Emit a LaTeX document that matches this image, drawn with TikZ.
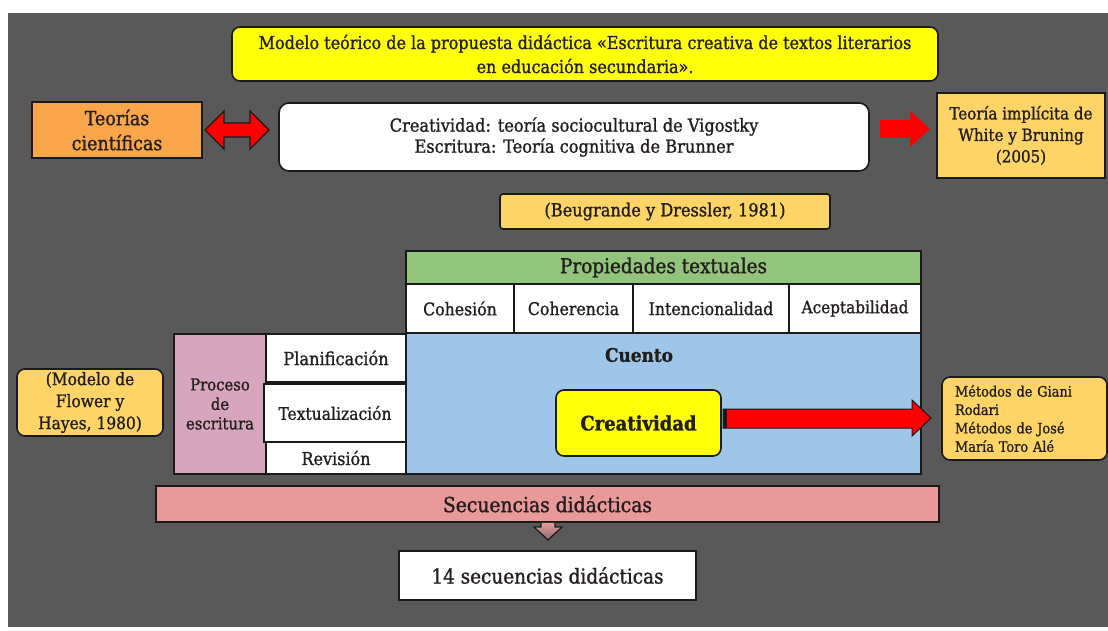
\documentclass[tikz,border=0pt]{standalone}
\usepackage{fontspec}
\setmainfont{DejaVu Serif Condensed}[FakeBold=1.1]
\definecolor{bggray}{HTML}{595959}
\definecolor{edge}{HTML}{1A1A1A}
\definecolor{ink}{HTML}{221E1C}
\definecolor{titley}{HTML}{FFFF0A}
\definecolor{orangeT}{HTML}{F9A64A}
\definecolor{lightO}{HTML}{FFD467}
\definecolor{greenP}{HTML}{93C47D}
\definecolor{blueC}{HTML}{9FC5E8}
\definecolor{pinkP}{HTML}{D5A6BD}
\definecolor{pinkS}{HTML}{EA9999}
\definecolor{redA}{HTML}{FF0000}
\newcommand{\fs}[2]{\fontsize{#1}{#2}\selectfont}
\begin{document}
\begin{tikzpicture}[x=1pt,y=-1pt,
  box/.style={draw=edge, line width=1.6pt, text=ink, inner sep=2pt, align=center},
  rbox/.style={box, rounded corners=8pt},
  cell/.style={box, fill=white, minimum height=49pt}]
\useasboundingbox (0,0) rectangle (1108,631);
\fill[white] (0,0) rectangle (1108,631);
\fill[bggray] (8,13) rectangle (1108,627);

% title
\node[rbox, fill=titley, minimum width=706pt, minimum height=54pt, font=\fs{17.8}{24}] (title) at (585,54)
  {Modelo teórico de la propuesta didáctica «Escritura creativa de textos literarios\\ en educación secundaria».};

% top row
\node[box, fill=orangeT, minimum width=170pt, minimum height=56pt, font=\fs{19.5}{25}] (teorias) at (117,130)
  {Teorías\\ científicas};
\node[rbox, rounded corners=10pt, fill=white, minimum width=590pt, minimum height=68pt, font=\fs{18}{21}] (teoria) at (574,137)
  {Creatividad: teoría sociocultural de Vigostky\\ Escritura: Teoría cognitiva de Brunner};
\node[box, fill=lightO, minimum width=168pt, minimum height=85pt, font=\fs{16.8}{21.5}] (white) at (1021,135.5)
  {Teoría implícita de\\ White y Bruning\\ (2005)};
\node[box, rounded corners=3pt, fill=lightO, minimum width=330pt, minimum height=35pt, font=\fs{18}{20}] (beau) at (665,211.5)
  {(Beugrande y Dressler, 1981)};

% arrows of the top row
\filldraw[fill=redA, draw=edge, line width=1.4pt]
  (205,130) -- (224,111) -- (224,123) -- (250,123) -- (250,111) -- (269,130)
  -- (250,149) -- (250,137) -- (224,137) -- (224,149) -- cycle;
\fill[redA] (880,120) -- (910,120) -- (910,111) -- (930,129) -- (910,147) -- (910,138) -- (880,138) -- cycle;

% properties
\node[box, fill=greenP, minimum width=515pt, minimum height=33pt, font=\fs{20.5}{22}] (prop) at (663.5,267.5)
  {Propiedades textuales};
\node[cell, minimum width=108pt, font=\fs{17.5}{20}] (coh) at (460,308.5) {Cohesión};
\node[cell, minimum width=119pt, font=\fs{17.5}{20}] (coher) at (573.5,308.5) {Coherencia};
\node[cell, minimum width=156pt, font=\fs{17.5}{20}] (inten) at (711,308.5) {Intencionalidad};
\node[cell, minimum width=132pt, font=\fs{17}{20}] (acep) at (855,308.5) {Aceptabilidad};

% cuento
\node[box, fill=blueC, minimum width=515pt, minimum height=141pt] (cuento) at (663.5,403.5) {};
\node[text=ink, font=\bfseries\fs{18.8}{20}, inner sep=0pt] (cuentolbl) at (639,355) {Cuento};
\node[rbox, fill=titley, minimum width=165pt, minimum height=66pt, font=\bfseries\fs{20}{22}] (crea) at (638.5,423)
  {Creatividad};

% writing process
\node[box, fill=pinkP, minimum width=92pt, minimum height=140pt, font=\fs{16.5}{19.5}] (proceso) at (220,404)
  {Proceso\\ de\\ escritura};
\node[box, fill=white, minimum width=140pt, minimum height=48pt, font=\fs{18}{20}] (plan) at (336,358) {Planificación};
\node[box, fill=white, minimum width=142pt, minimum height=58pt, font=\fs{17.3}{20}] (textu) at (335,413) {Textualización};
\node[box, fill=white, minimum width=140pt, minimum height=32pt, font=\fs{17.8}{20}] (revi) at (336,458) {Revisión};

\node[rbox, fill=lightO, minimum width=146pt, minimum height=67pt, font=\fs{17.2}{22}] (flower) at (90,402.5)
  {(Modelo de\\ Flower y\\ Hayes, 1980)};

% creatividad arrow
\filldraw[fill=redA, draw=edge, line width=1pt]
  (723,409) -- (912,409) -- (912,400) -- (931,418) -- (912,436) -- (912,428) -- (723,428) -- cycle;
\fill[edge] (723,409) rectangle (727,428);

\node[rbox, fill=lightO, minimum width=165pt, minimum height=83pt, text width=139pt, inner xsep=12pt,
  align=left, font=\fs{14.4}{18.4}] (metodos) at (1024.5,418.5)
  {Métodos de Giani\\ Rodari\\ Métodos de José\\ María Toro Alé};

% secuencias
\node[box, fill=pinkS, minimum width=783pt, minimum height=36pt, font=\fs{20.8}{22}] (secu) at (547.5,504)
  {Secuencias didácticas};
\shade[top color=pinkS, bottom color=bggray!70!pinkS, draw=edge, line width=1.2pt]
  (541,522.8) -- (541,527) -- (534,527) -- (548,540) -- (562,527) -- (555,527) -- (555,522.8);
\node[box, fill=white, minimum width=297pt, minimum height=49pt, font=\fs{20.5}{22}] (catorce) at (547.5,575.5)
  {14 secuencias didácticas};
\end{tikzpicture}
\end{document}
